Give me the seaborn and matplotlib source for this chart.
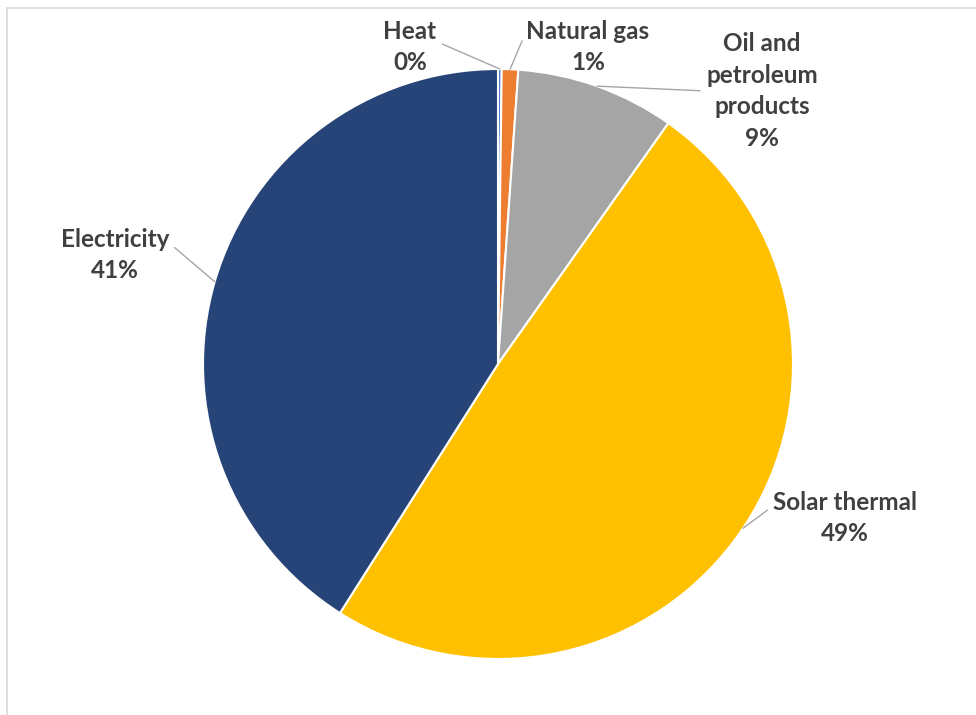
import numpy as np
import matplotlib
matplotlib.use("Agg")
import matplotlib.pyplot as plt
import seaborn as sns

# shares of final energy use (%)
labels = ["Heat", "Natural gas", "Oil and\npetroleum\nproducts", "Solar thermal", "Electricity"]
values = [0.2, 0.9, 8.7, 49.2, 41.0]
colors = ["#4472C4", "#ED7D31", "#A5A5A5", "#FFC000", "#264478"]

sns.set_theme(style="white")
plt.rcParams["font.family"] = ["Lato", "DejaVu Sans"]

W, H = 976, 715
fig = plt.figure(figsize=(W / 100, H / 100), dpi=100)
ax = fig.add_axes([0, 0, 1, 1])

cx, cy, r = 498, H - 364, 295
wedges, _ = ax.pie(values, colors=colors, startangle=90, counterclock=False,
                   center=(cx, cy), radius=r, frame=True,
                   wedgeprops=dict(edgecolor="white", linewidth=1.5))
ax.set_xlim(0, W)
ax.set_ylim(0, H)
ax.set_aspect("equal")
ax.axis("off")

# label positions (pixel coords from top) and where the leader leaves the text box
text_pos = [(410, 47), (588, 47), (762, 91), (845, 518), (115, 255)]
rel = [(1.0, 0.6), (0.0, 0.8), (0.0, 0.5), (0.0, 0.72), (1.0, 0.72)]

for w, lab, v, (tx, ty), rp in zip(wedges, labels, values, text_pos, rel):
    ang = np.deg2rad((w.theta1 + w.theta2) / 2)
    xy = (cx + r * np.cos(ang), cy + r * np.sin(ang))
    ax.annotate(f"{lab}\n{v:.0f}%", xy=xy, xytext=(tx, H - ty),
                ha="center", va="center", fontsize=17.5, fontweight="bold",
                color="#404040", linespacing=1.45,
                arrowprops=dict(arrowstyle="-", color="#A6A6A6", lw=1,
                                shrinkA=2, shrinkB=0, relpos=rp))

# chart area frame (cut at right/bottom in the screenshot)
ax.plot([7, W + 5], [H - 8, H - 8], color="#D9D9D9", lw=1.2, clip_on=False)
ax.plot([7, 7], [H - 8, -5], color="#D9D9D9", lw=1.2, clip_on=False)

fig.savefig("out.png", dpi=100, facecolor="white")
